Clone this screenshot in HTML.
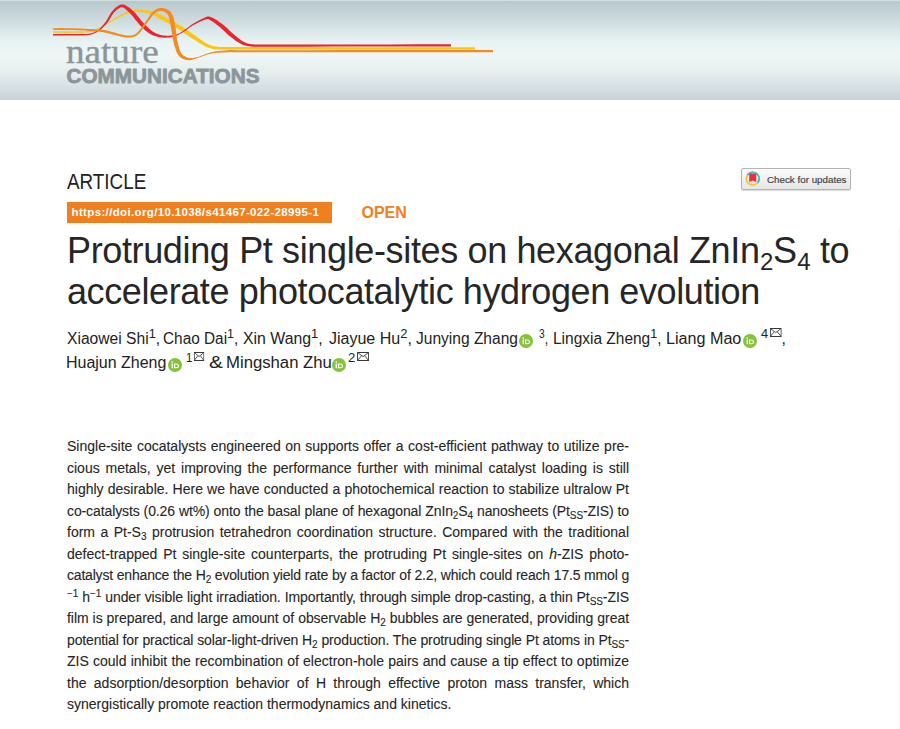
<!DOCTYPE html>
<html><head><meta charset="utf-8">
<style>
html,body{margin:0;padding:0;background:#fff;}
body{width:900px;height:729px;overflow:hidden;position:relative;font-family:"Liberation Sans",sans-serif;color:#222;}
.hdr{position:absolute;left:0;top:0;width:900px;height:100px;
 background:linear-gradient(to bottom,#dfe6e8 0px,#b8c9cd 1.5px,#cddbde 20px,#e9f3f3 42px,#eef6f6 55px,#e6eeee 72px,#d4dde0 90px,#c8d2d7 99px,#c8d2d7 100px);}
.a{position:absolute;white-space:nowrap;}
.au{position:absolute;white-space:nowrap;font-size:16px;color:#222;line-height:20px;}
.au sup{font-size:13px;vertical-align:0;position:relative;top:-6px;}
.orc{position:absolute;width:14px;height:14px;}
#abstract{position:absolute;left:67px;top:436px;width:562px;font-size:14px;line-height:21.5px;color:#262626;-webkit-text-stroke:0.1px #262626;}
#abstract div{white-space:nowrap;text-align:justify;text-align-last:justify;height:21.5px;}
#abstract sub{font-size:10px;vertical-align:0;position:relative;top:3px;}
#abstract sup{font-size:10px;vertical-align:0;position:relative;top:-5px;}
.tt{position:absolute;left:67px;white-space:nowrap;font-size:36px;color:#262626;letter-spacing:-0.4px;line-height:40px;}
.tt sub{font-size:24px;vertical-align:0;position:relative;top:7px;margin-left:0.5px;}
</style></head>
<body>
<div class="hdr"></div>
<!-- logo -->
<svg class="a" style="left:0;top:0" width="520" height="100" viewBox="0 0 520 100">
<g id="rib">
<path d="M53.0,32.8 L54.7,32.8 L57.1,32.8 L59.9,32.8 L63.1,32.8 L66.3,32.9 L69.5,32.8 L72.4,32.8 L75.0,32.8 L77.2,32.8 L79.4,32.8 L81.4,32.7 L83.3,32.7 L85.1,32.6 L86.8,32.5 L88.5,32.4 L90.1,32.1 L91.6,31.7 L93.1,31.3 L94.4,30.7 L95.6,30.2 L96.8,29.6 L98.0,29.0 L99.1,28.4 L100.2,27.9 L101.2,27.4 L102.1,26.9 L102.8,26.5 L103.6,26.0 L104.5,25.5 L105.4,25.0 L106.6,24.3 L108.0,23.5 L109.8,22.5 L111.9,21.4 L114.3,20.0 L116.7,18.7 L119.2,17.3 L121.6,16.1 L123.9,15.0 L125.9,14.1 L127.8,13.5 L129.5,13.0 L131.2,12.6 L132.7,12.3 L134.3,12.1 L135.8,12.0 L137.3,12.0 L138.9,11.9 L140.5,12.0 L142.2,12.2 L143.9,12.4 L145.6,12.7 L147.3,13.1 L148.9,13.5 L150.4,13.9 L151.8,14.3 L152.9,14.7 L153.7,15.1 L154.4,15.5 L155.0,15.9 L155.7,16.4 L156.6,17.0 L157.7,17.7 L159.1,18.5 L160.7,19.4 L162.6,20.3 L164.7,21.4 L166.9,22.5 L169.1,23.7 L171.4,24.9 L173.6,26.1 L175.7,27.3 L177.7,28.6 L179.7,29.9 L181.8,31.3 L183.8,32.8 L185.9,34.2 L188.0,35.6 L190.1,37.0 L192.2,38.4 L194.3,39.7 L196.4,41.0 L198.5,42.4 L200.7,43.8 L202.9,45.1 L205.1,46.2 L207.3,47.3 L209.5,48.1 L211.7,48.7 L213.9,49.1 L216.1,49.3 L218.2,49.4 L220.3,49.5 L222.4,49.5 L224.5,49.5 L226.6,49.5 L227.2,47.2 L226.2,47.2 L224.1,47.2 L222.6,47.2 L222.6,49.6 L225.5,49.5 L232.6,49.5 L245.0,49.5 L265.2,49.5 L293.0,49.5 L325.9,49.5 L361.1,49.4 L396.3,49.4 L428.7,49.4 L455.8,49.4 L475.0,49.4 L475.0,47.2 L455.8,47.2 L428.7,47.2 L396.3,47.2 L361.1,47.2 L325.9,47.1 L293.0,47.1 L265.2,47.1 L245.0,47.1 L232.6,47.1 L225.5,47.1 L222.5,47.2 L222.5,49.6 L224.1,49.6 L226.2,49.6 L227.7,49.5 L226.8,47.1 L224.6,47.0 L222.4,47.0 L220.3,46.9 L218.3,46.8 L216.3,46.6 L214.4,46.3 L212.4,45.9 L210.5,45.3 L208.6,44.4 L206.6,43.4 L204.6,42.2 L202.6,40.8 L200.6,39.4 L198.5,37.9 L196.5,36.4 L194.4,35.0 L192.3,33.7 L190.3,32.3 L188.2,30.8 L186.2,29.4 L184.1,28.0 L182.0,26.6 L179.9,25.2 L177.7,23.9 L175.5,22.6 L173.3,21.3 L171.0,20.1 L168.7,18.9 L166.5,17.8 L164.5,16.7 L162.6,15.8 L160.9,14.9 L159.6,14.3 L158.5,13.7 L157.6,13.2 L156.7,12.8 L155.9,12.5 L154.9,12.1 L153.9,11.8 L152.6,11.5 L151.2,11.1 L149.6,10.7 L147.9,10.4 L146.1,10.1 L144.3,9.8 L142.5,9.6 L140.7,9.5 L138.9,9.5 L137.2,9.5 L135.6,9.7 L134.0,9.9 L132.3,10.2 L130.7,10.6 L129.0,11.1 L127.2,11.7 L125.3,12.5 L123.2,13.4 L120.9,14.7 L118.5,16.0 L116.0,17.5 L113.6,19.0 L111.4,20.4 L109.3,21.6 L107.6,22.7 L106.1,23.5 L105.0,24.2 L104.0,24.8 L103.2,25.3 L102.4,25.8 L101.7,26.2 L100.8,26.7 L99.8,27.1 L98.7,27.7 L97.6,28.2 L96.4,28.8 L95.3,29.3 L94.0,29.8 L92.7,30.2 L91.4,30.6 L89.9,30.9 L88.3,31.1 L86.7,31.2 L85.0,31.3 L83.2,31.3 L81.4,31.3 L79.4,31.2 L77.2,31.2 L75.0,31.2 L72.4,31.2 L69.5,31.2 L66.3,31.2 L63.1,31.2 L59.9,31.2 L57.1,31.2 L54.7,31.2 L53.0,31.2 Z" fill="#fcc514"/>
<path d="M53.0,35.5 L54.7,35.5 L57.1,35.5 L59.9,35.5 L63.1,35.5 L66.3,35.6 L69.5,35.5 L72.4,35.5 L75.0,35.5 L77.3,35.5 L79.4,35.5 L81.4,35.4 L83.3,35.4 L85.1,35.3 L86.9,35.2 L88.5,35.1 L90.1,34.8 L91.6,34.4 L92.9,34.0 L94.1,33.6 L95.2,33.1 L96.3,32.5 L97.3,31.9 L98.3,31.2 L99.4,30.5 L100.4,29.7 L101.5,28.8 L102.6,27.8 L103.7,26.8 L104.7,25.8 L105.7,24.7 L106.6,23.7 L107.5,22.6 L108.3,21.5 L109.1,20.3 L109.8,19.2 L110.4,18.0 L111.0,16.9 L111.6,15.8 L112.2,14.9 L112.9,14.0 L113.6,13.1 L114.3,12.3 L115.0,11.5 L115.8,10.8 L116.5,10.1 L117.3,9.5 L118.0,9.0 L118.7,8.6 L119.4,8.2 L120.0,7.8 L120.6,7.5 L121.1,7.3 L121.6,7.2 L122.1,7.2 L122.6,7.4 L123.2,7.6 L124.0,8.0 L124.9,8.6 L125.9,9.4 L126.9,10.4 L128.0,11.4 L129.1,12.5 L130.2,13.6 L131.3,14.7 L132.3,15.8 L133.4,17.1 L134.4,18.4 L135.5,19.9 L136.7,21.3 L137.8,22.7 L139.0,24.1 L140.1,25.4 L141.3,26.5 L142.5,27.7 L143.6,28.8 L144.8,29.9 L146.0,30.9 L147.1,31.8 L148.3,32.7 L149.4,33.4 L150.5,34.1 L151.6,34.7 L152.6,35.2 L153.7,35.6 L154.7,35.9 L155.7,36.2 L156.7,36.4 L157.6,36.7 L158.6,36.9 L159.6,37.2 L160.5,37.3 L161.5,37.5 L162.5,37.6 L163.5,37.7 L164.5,37.7 L165.6,37.7 L166.7,37.6 L167.9,37.5 L169.2,37.4 L170.4,37.2 L171.7,36.9 L172.9,36.7 L174.1,36.4 L175.2,36.1 L176.1,35.8 L177.0,35.4 L177.9,35.1 L178.7,34.7 L179.5,34.3 L180.4,33.8 L181.4,33.3 L182.5,32.6 L183.7,31.8 L185.0,30.9 L186.4,29.9 L187.8,28.9 L189.3,27.8 L190.8,26.8 L192.2,25.8 L193.6,25.0 L195.1,24.2 L196.5,23.4 L198.1,22.6 L199.5,21.9 L201.0,21.3 L202.4,20.7 L203.6,20.2 L204.8,19.8 L205.7,19.5 L206.5,19.2 L207.1,19.1 L207.5,19.0 L207.8,19.0 L208.1,19.1 L208.6,19.3 L209.4,19.7 L210.4,20.2 L211.6,20.9 L212.8,21.8 L214.2,22.8 L215.6,23.8 L217.1,24.9 L218.5,26.1 L219.9,27.2 L221.2,28.3 L222.5,29.5 L223.9,30.8 L225.2,32.1 L226.6,33.4 L228.0,34.7 L229.5,36.0 L230.9,37.1 L232.4,38.2 L233.8,39.3 L235.2,40.4 L236.7,41.4 L238.2,42.3 L239.7,43.2 L241.2,44.0 L242.7,44.7 L244.1,45.2 L245.6,45.6 L247.0,45.9 L248.3,46.2 L249.7,46.3 L251.2,46.5 L252.7,46.6 L254.3,46.7 L254.5,44.8 L254.1,44.7 L252.7,44.7 L251.7,44.7 L251.9,46.8 L254.4,46.8 L260.1,46.7 L270.0,46.7 L285.9,46.7 L307.9,46.7 L333.7,46.6 L361.5,46.6 L389.1,46.6 L414.6,46.5 L435.9,46.5 L451.0,46.5 L451.0,44.3 L435.9,44.3 L414.6,44.3 L389.1,44.4 L361.5,44.4 L333.7,44.4 L307.9,44.5 L285.9,44.5 L270.0,44.5 L260.1,44.5 L254.4,44.6 L251.8,44.6 L251.5,46.8 L252.6,46.8 L254.1,46.8 L255.5,46.7 L254.5,44.5 L252.9,44.3 L251.4,44.2 L250.1,43.9 L248.8,43.7 L247.6,43.4 L246.4,43.0 L245.2,42.5 L243.9,41.9 L242.7,41.2 L241.4,40.4 L240.1,39.5 L238.8,38.5 L237.5,37.4 L236.2,36.3 L234.8,35.2 L233.5,34.1 L232.1,32.9 L230.8,31.7 L229.5,30.4 L228.1,29.1 L226.7,27.8 L225.3,26.4 L223.8,25.2 L222.3,24.0 L220.9,22.9 L219.3,21.9 L217.8,20.8 L216.2,19.8 L214.7,18.9 L213.2,18.1 L211.8,17.4 L210.6,16.9 L209.5,16.6 L208.6,16.4 L207.7,16.4 L206.9,16.6 L206.3,16.9 L205.6,17.2 L204.9,17.6 L204.0,18.0 L202.9,18.5 L201.6,19.1 L200.3,19.7 L198.8,20.5 L197.4,21.3 L195.9,22.1 L194.4,23.0 L193.0,23.8 L191.5,24.8 L190.1,25.8 L188.6,26.9 L187.2,28.0 L185.8,29.1 L184.4,30.1 L183.1,31.0 L181.9,31.8 L180.9,32.4 L179.9,33.0 L179.1,33.4 L178.3,33.8 L177.5,34.1 L176.7,34.4 L175.8,34.7 L174.8,34.9 L173.8,35.1 L172.6,35.3 L171.4,35.5 L170.2,35.6 L169.0,35.7 L167.8,35.7 L166.7,35.7 L165.6,35.7 L164.6,35.6 L163.7,35.6 L162.7,35.4 L161.9,35.3 L161.0,35.1 L160.1,34.9 L159.3,34.6 L158.4,34.3 L157.5,34.0 L156.6,33.6 L155.7,33.2 L154.9,32.8 L154.0,32.3 L153.2,31.8 L152.3,31.2 L151.4,30.6 L150.5,29.8 L149.5,29.0 L148.4,28.0 L147.4,27.0 L146.3,26.0 L145.2,24.9 L144.1,23.8 L143.1,22.6 L142.0,21.5 L141.0,20.2 L139.9,18.8 L138.8,17.3 L137.6,15.9 L136.5,14.5 L135.3,13.1 L134.1,11.9 L132.9,10.8 L131.7,9.7 L130.4,8.6 L129.2,7.6 L127.9,6.7 L126.7,6.0 L125.5,5.3 L124.4,4.8 L123.2,4.5 L122.2,4.4 L121.2,4.5 L120.3,4.8 L119.5,5.1 L118.8,5.5 L118.1,6.0 L117.3,6.4 L116.5,7.0 L115.7,7.6 L114.9,8.3 L114.2,9.1 L113.4,9.9 L112.6,10.8 L111.9,11.7 L111.1,12.6 L110.4,13.7 L109.8,14.7 L109.1,15.9 L108.5,17.0 L107.9,18.1 L107.3,19.3 L106.6,20.4 L105.9,21.4 L105.1,22.5 L104.3,23.6 L103.4,24.7 L102.5,25.7 L101.6,26.8 L100.6,27.8 L99.6,28.7 L98.6,29.5 L97.6,30.3 L96.7,30.9 L95.7,31.5 L94.7,32.1 L93.7,32.5 L92.5,33.0 L91.3,33.3 L89.9,33.6 L88.4,33.8 L86.8,34.0 L85.1,34.0 L83.3,34.0 L81.4,34.0 L79.4,33.9 L77.3,33.9 L75.0,33.9 L72.4,33.9 L69.5,33.9 L66.3,33.9 L63.1,33.9 L59.9,33.9 L57.1,33.9 L54.7,33.9 L53.0,33.9 Z" fill="#e9262b"/>
<path d="M53.0,29.8 L54.7,29.9 L56.9,29.9 L59.5,29.9 L62.4,29.9 L65.6,29.9 L68.8,29.9 L71.9,30.0 L75.0,30.1 L78.1,30.2 L81.4,30.4 L84.9,30.6 L88.3,30.9 L91.7,31.1 L94.8,31.4 L97.6,31.6 L99.9,31.8 L101.6,32.0 L102.8,32.1 L103.6,32.2 L104.1,32.3 L104.6,32.5 L105.2,32.7 L106.2,32.9 L107.5,33.2 L109.3,33.6 L111.4,34.2 L113.7,34.8 L116.2,35.5 L118.7,36.1 L121.2,36.7 L123.5,37.1 L125.5,37.4 L127.2,37.5 L128.8,37.6 L130.2,37.6 L131.6,37.5 L132.9,37.2 L134.2,36.8 L135.5,36.3 L136.8,35.5 L138.0,34.6 L139.3,33.4 L140.4,32.0 L141.5,30.6 L142.6,29.0 L143.7,27.5 L144.8,26.0 L145.9,24.6 L147.0,23.1 L148.2,21.6 L149.4,19.9 L150.5,18.4 L151.6,16.8 L152.7,15.5 L153.8,14.3 L154.8,13.3 L155.8,12.6 L156.8,12.0 L157.7,11.5 L158.6,11.2 L159.5,11.0 L160.3,10.9 L161.2,10.9 L162.0,11.0 L162.9,11.2 L163.8,11.5 L164.7,11.9 L165.5,12.4 L166.3,13.1 L167.1,13.8 L167.7,14.6 L168.3,15.4 L168.8,16.5 L169.2,17.8 L169.5,19.3 L169.9,20.9 L170.2,22.7 L170.5,24.6 L170.8,26.4 L171.1,28.2 L171.4,29.9 L171.7,31.7 L172.0,33.5 L172.2,35.4 L172.5,37.2 L172.9,39.1 L173.2,40.9 L173.7,42.7 L174.1,44.4 L174.6,46.1 L175.1,47.8 L175.7,49.5 L176.3,51.2 L176.9,52.7 L177.7,54.1 L178.6,55.4 L179.6,56.5 L180.6,57.5 L181.7,58.2 L182.9,58.8 L184.1,59.3 L185.3,59.7 L186.4,59.9 L187.6,60.1 L188.7,60.2 L189.8,60.2 L190.9,60.0 L192.0,59.7 L193.1,59.4 L194.3,59.1 L195.5,58.7 L196.8,58.3 L198.3,57.8 L199.8,57.3 L201.4,56.7 L203.0,56.1 L204.7,55.4 L206.5,54.8 L208.3,54.3 L210.1,53.9 L211.9,53.5 L213.7,53.3 L215.4,53.0 L217.2,52.8 L219.2,52.7 L221.3,52.5 L223.8,52.4 L226.7,52.3 L228.8,52.2 L229.3,52.2 L229.2,52.1 L229.8,52.1 L232.1,52.2 L237.2,52.2 L246.2,52.2 L260.0,52.2 L281.2,52.2 L309.7,52.2 L343.0,52.2 L378.6,52.2 L413.9,52.2 L446.5,52.2 L473.7,52.2 L493.0,52.2 L493.0,50.0 L473.7,50.0 L446.5,50.0 L413.9,50.1 L378.6,50.1 L343.0,50.1 L309.7,50.2 L281.2,50.2 L260.0,50.2 L246.2,50.2 L237.2,50.2 L232.2,50.1 L229.8,50.1 L229.2,50.1 L229.0,50.1 L228.6,50.2 L226.7,50.3 L223.7,50.5 L221.2,50.7 L219.0,50.9 L217.0,51.2 L215.2,51.5 L213.4,51.9 L211.7,52.3 L209.9,52.7 L208.0,53.2 L206.2,53.8 L204.4,54.5 L202.7,55.2 L201.0,55.8 L199.5,56.4 L198.0,56.9 L196.6,57.3 L195.2,57.6 L194.0,57.8 L192.8,58.0 L191.8,58.1 L190.8,58.1 L189.8,58.0 L188.9,57.9 L188.0,57.7 L187.1,57.4 L186.1,57.0 L185.2,56.6 L184.3,56.1 L183.5,55.6 L182.7,54.9 L182.0,54.2 L181.4,53.4 L180.8,52.4 L180.3,51.2 L179.7,49.8 L179.3,48.3 L178.8,46.7 L178.3,45.1 L177.9,43.4 L177.5,41.7 L177.2,40.1 L176.9,38.4 L176.7,36.6 L176.5,34.8 L176.3,32.9 L176.1,31.1 L175.8,29.2 L175.5,27.4 L175.2,25.6 L174.8,23.8 L174.5,21.9 L174.1,20.1 L173.7,18.2 L173.2,16.5 L172.5,14.9 L171.7,13.4 L170.8,12.1 L169.7,11.0 L168.5,10.1 L167.3,9.4 L166.0,8.9 L164.8,8.4 L163.6,8.2 L162.4,8.0 L161.2,8.0 L160.1,8.1 L158.9,8.3 L157.7,8.6 L156.6,9.1 L155.4,9.8 L154.3,10.5 L153.2,11.5 L152.0,12.6 L150.9,14.0 L149.8,15.5 L148.7,17.1 L147.6,18.7 L146.5,20.4 L145.4,21.9 L144.3,23.4 L143.2,24.9 L142.1,26.4 L141.0,27.9 L140.0,29.4 L138.9,30.8 L137.8,32.0 L136.7,33.0 L135.6,33.9 L134.6,34.5 L133.5,35.0 L132.4,35.3 L131.3,35.5 L130.1,35.6 L128.8,35.6 L127.3,35.6 L125.7,35.4 L123.8,35.1 L121.7,34.6 L119.3,34.0 L116.8,33.3 L114.4,32.6 L112.0,31.9 L109.9,31.2 L108.1,30.8 L106.8,30.5 L105.9,30.3 L105.2,30.1 L104.6,30.0 L103.9,29.9 L103.0,29.8 L101.8,29.7 L100.1,29.6 L97.8,29.4 L95.0,29.3 L91.8,29.1 L88.4,28.9 L85.0,28.7 L81.5,28.5 L78.1,28.4 L75.0,28.3 L72.0,28.2 L68.8,28.2 L65.6,28.2 L62.4,28.1 L59.5,28.1 L56.9,28.2 L54.7,28.2 L53.0,28.2 Z" fill="#f28a25"/>
</g>
<text x="66" y="63" font-family="Liberation Serif" font-size="33" fill="#8b969a" stroke="#8b969a" stroke-width="0.35" transform="translate(66 0) scale(1.125 1) translate(-66 0)">nature</text>
<text x="66.5" y="83.2" font-family="Liberation Sans" font-weight="bold" font-size="19.6" fill="#8b969a" stroke="#8b969a" stroke-width="0.8" transform="translate(66.5 0) scale(1.058 1) translate(-66.5 0)">COMMUNICATIONS</text>
</svg>
<div class="a" style="left:741px;top:168px;width:108px;height:20px;border:1px solid #b4b4b4;border-radius:2px;background:linear-gradient(#fbfbfb,#e6e6e6);box-shadow:0 1px 1px rgba(0,0,0,0.15);"></div>
<svg class="a" style="left:744px;top:170px" width="17" height="17" viewBox="0 0 17 17"><circle cx="8.7" cy="8.7" r="6.4" fill="none" stroke="#f4c532" stroke-width="1.7"/><path d="M3.46,5.03 A6.4,6.4 0 1 1 13.6,12.81" fill="none" stroke="#40b8d2" stroke-width="1.7"/><path d="M5.2,3.4 L12.2,3.4 L12.2,12 L8.7,10.6 L5.2,12 Z" fill="#ee2d3d"/></svg>
<div class="a" style="left:767px;top:173.5px;font-size:9.8px;line-height:12px;color:#3e3e3e;-webkit-text-stroke:0.15px #3e3e3e;">Check for updates</div>
<div class="a" style="left:897px;top:228px;width:3px;height:501px;background:linear-gradient(to right,#fefefe,#f6f6f6);"></div>
<div class="a" style="left:67px;top:171px;font-size:21.8px;line-height:1;color:#222;transform:scaleX(0.865);transform-origin:0 0;">ARTICLE</div>
<div class="a" style="left:67px;top:202px;width:265px;height:21px;background:#f0801f;"></div>
<div class="a" style="left:71.5px;top:207.4px;font-size:11.5px;line-height:1;letter-spacing:0.36px;font-weight:bold;color:#fff;">https://doi.org/10.1038/s41467-022-28995-1</div>
<div class="a" style="left:361.5px;top:204.8px;font-size:16px;line-height:1;font-weight:bold;color:#f0801f;">OPEN</div>
<div class="tt" style="top:231px;letter-spacing:-0.36px;">Protruding Pt single-sites on hexagonal ZnIn<sub>2</sub>S<sub>4</sub> to</div>
<div class="tt" style="top:271.5px;">accelerate photocatalytic hydrogen evolution</div>
<!-- authors -->
<div class="au" style="left:66.51px;top:329px;transform:scaleX(0.9763);transform-origin:0 0;">Xiaowei Shi<sup>1</sup>,</div>
<div class="au" style="left:163.04px;top:329px;transform:scaleX(0.9605);transform-origin:0 0;">Chao Dai<sup>1</sup>,</div>
<div class="au" style="left:243.20px;top:329px;transform:scaleX(0.9900);transform-origin:0 0;">Xin Wang<sup>1</sup>,</div>
<div class="au" style="left:329.00px;top:329px;transform:scaleX(1.0000);transform-origin:0 0;">Jiayue Hu<sup>2</sup>,</div>
<div class="au" style="left:416.00px;top:329px;transform:scaleX(0.9712);transform-origin:0 0;">Junying Zhang</div>
<div class="orc" style="left:519.3px;top:334px"><svg width="14" height="14" viewBox="0 0 14 14" style="position:absolute;left:0;top:0"><circle cx="7" cy="7" r="7" fill="#86c23a"/><rect x="3.6" y="5.6" width="1.3" height="4.6" fill="#fff"/><circle cx="4.25" cy="4.1" r="0.8" fill="#fff"/><path d="M6,5.6 L8,5.6 C10,5.6 11.1,6.6 11.1,7.9 C11.1,9.2 10,10.2 8,10.2 L6,10.2 Z M7.1,6.6 L7.1,9.2 L8,9.2 C9.3,9.2 9.9,8.6 9.9,7.9 C9.9,7.2 9.3,6.6 8,6.6 Z" fill="#fff" fill-rule="evenodd"/></svg></div>
<div class="au" style="left:538.86px;top:329px;transform:scaleX(0.7823);transform-origin:0 0;"><sup>3</sup>,</div>
<div class="au" style="left:552.95px;top:329px;transform:scaleX(0.9670);transform-origin:0 0;">Lingxia Zheng<sup>1</sup>,</div>
<div class="au" style="left:666.48px;top:329px;transform:scaleX(1.0083);transform-origin:0 0;">Liang Mao</div>
<div class="orc" style="left:743px;top:334px"><svg width="14" height="14" viewBox="0 0 14 14" style="position:absolute;left:0;top:0"><circle cx="7" cy="7" r="7" fill="#86c23a"/><rect x="3.6" y="5.6" width="1.3" height="4.6" fill="#fff"/><circle cx="4.25" cy="4.1" r="0.8" fill="#fff"/><path d="M6,5.6 L8,5.6 C10,5.6 11.1,6.6 11.1,7.9 C11.1,9.2 10,10.2 8,10.2 L6,10.2 Z M7.1,6.6 L7.1,9.2 L8,9.2 C9.3,9.2 9.9,8.6 9.9,7.9 C9.9,7.2 9.3,6.6 8,6.6 Z" fill="#fff" fill-rule="evenodd"/></svg></div>
<div class="au" style="left:760.55px;top:329px;transform:scaleX(0.9851);transform-origin:0 0;"><sup>4</sup><svg width="12" height="9" viewBox="0 0 12 9" style="position:relative;top:-6.8px;margin-left:1.5px"><rect x="0.5" y="0.5" width="11" height="8" fill="none" stroke="#3a3a3a" stroke-width="1"/><path d="M0.5,0.5 L6,4.6 L11.5,0.5 M0.5,8.5 L4.6,3.6 M7.4,3.6 L11.5,8.5" fill="none" stroke="#3a3a3a" stroke-width="0.9"/></svg>,</div>
<div class="au" style="left:66.40px;top:353px;transform:scaleX(0.9980);transform-origin:0 0;">Huajun Zheng</div>
<div class="orc" style="left:168px;top:358px"><svg width="14" height="14" viewBox="0 0 14 14" style="position:absolute;left:0;top:0"><circle cx="7" cy="7" r="7" fill="#86c23a"/><rect x="3.6" y="5.6" width="1.3" height="4.6" fill="#fff"/><circle cx="4.25" cy="4.1" r="0.8" fill="#fff"/><path d="M6,5.6 L8,5.6 C10,5.6 11.1,6.6 11.1,7.9 C11.1,9.2 10,10.2 8,10.2 L6,10.2 Z M7.1,6.6 L7.1,9.2 L8,9.2 C9.3,9.2 9.9,8.6 9.9,7.9 C9.9,7.2 9.3,6.6 8,6.6 Z" fill="#fff" fill-rule="evenodd"/></svg></div>
<div class="au" style="left:185.96px;top:353px;transform:scaleX(0.8715);transform-origin:0 0;"><sup>1</sup><svg width="12" height="9" viewBox="0 0 12 9" style="position:relative;top:-6.8px;margin-left:1.5px"><rect x="0.5" y="0.5" width="11" height="8" fill="none" stroke="#3a3a3a" stroke-width="1"/><path d="M0.5,0.5 L6,4.6 L11.5,0.5 M0.5,8.5 L4.6,3.6 M7.4,3.6 L11.5,8.5" fill="none" stroke="#3a3a3a" stroke-width="0.9"/></svg></div>
<div class="au" style="left:208.71px;top:353px;transform:scaleX(1.3021);transform-origin:0 0;">&amp;</div>
<div class="au" style="left:226.35px;top:353px;transform:scaleX(1.0445);transform-origin:0 0;">Mingshan Zhu</div>
<div class="orc" style="left:332px;top:358px"><svg width="14" height="14" viewBox="0 0 14 14" style="position:absolute;left:0;top:0"><circle cx="7" cy="7" r="7" fill="#86c23a"/><rect x="3.6" y="5.6" width="1.3" height="4.6" fill="#fff"/><circle cx="4.25" cy="4.1" r="0.8" fill="#fff"/><path d="M6,5.6 L8,5.6 C10,5.6 11.1,6.6 11.1,7.9 C11.1,9.2 10,10.2 8,10.2 L6,10.2 Z M7.1,6.6 L7.1,9.2 L8,9.2 C9.3,9.2 9.9,8.6 9.9,7.9 C9.9,7.2 9.3,6.6 8,6.6 Z" fill="#fff" fill-rule="evenodd"/></svg></div>
<div class="au" style="left:348.29px;top:353px;transform:scaleX(1.0060);transform-origin:0 0;"><sup>2</sup><svg width="12" height="9" viewBox="0 0 12 9" style="position:relative;top:-6.8px;margin-left:1.5px"><rect x="0.5" y="0.5" width="11" height="8" fill="none" stroke="#3a3a3a" stroke-width="1"/><path d="M0.5,0.5 L6,4.6 L11.5,0.5 M0.5,8.5 L4.6,3.6 M7.4,3.6 L11.5,8.5" fill="none" stroke="#3a3a3a" stroke-width="0.9"/></svg></div>
<div id="abstract">
<div>Single-site cocatalysts engineered on supports offer a cost-efficient pathway to utilize pre-</div>
<div>cious metals, yet improving the performance further with minimal catalyst loading is still</div>
<div>highly desirable. Here we have conducted a photochemical reaction to stabilize ultralow Pt</div>
<div style="letter-spacing:-0.11px">co-catalysts (0.26 wt%) onto the basal plane of hexagonal ZnIn<sub>2</sub>S<sub>4</sub> nanosheets (Pt<sub>SS</sub>-ZIS) to</div>
<div>form a Pt-S<sub>3</sub> protrusion tetrahedron coordination structure. Compared with the traditional</div>
<div>defect-trapped Pt single-site counterparts, the protruding Pt single-sites on <i>h</i>-ZIS photo-</div>
<div style="letter-spacing:-0.19px">catalyst enhance the H<sub>2</sub> evolution yield rate by a factor of 2.2, which could reach 17.5 mmol g</div>
<div style="letter-spacing:-0.08px"><sup>−1</sup> h<sup>−1</sup> under visible light irradiation. Importantly, through simple drop-casting, a thin Pt<sub>SS</sub>-ZIS</div>
<div style="letter-spacing:-0.05px">film is prepared, and large amount of observable H<sub>2</sub> bubbles are generated, providing great</div>
<div style="letter-spacing:-0.14px">potential for practical solar-light-driven H<sub>2</sub> production. The protruding single Pt atoms in Pt<sub>SS</sub>-</div>
<div>ZIS could inhibit the recombination of electron-hole pairs and cause a tip effect to optimize</div>
<div>the adsorption/desorption behavior of H through effective proton mass transfer, which</div>
<div style="text-align-last:left">synergistically promote reaction thermodynamics and kinetics.</div>
</div>
</body></html>
